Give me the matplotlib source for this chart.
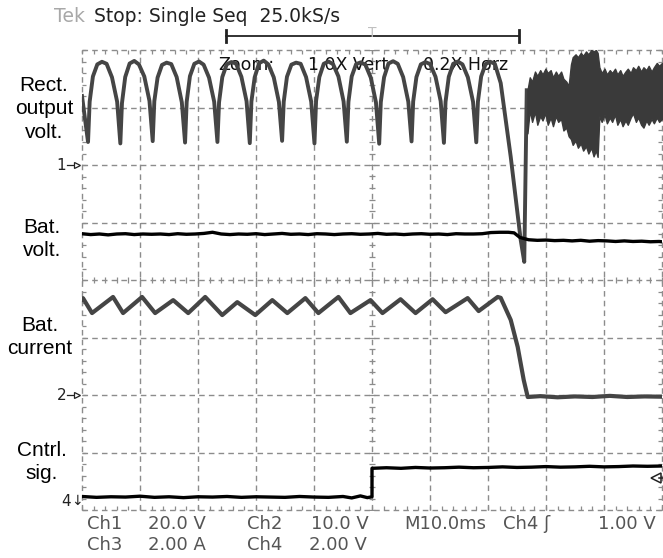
import numpy as np
from matplotlib import pyplot as plt
from matplotlib.ticker import MultipleLocator

W, H = 663, 558

# scope settings: volts (amps) per division and ground position in divisions
ms_per_div = 10.0
ch1_scale, ch1_pos = 20.0, 6.0
ch2_scale, ch2_pos = 10.0, 3.6
ch3_scale, ch3_pos = 2.0, 2.0
ch4_scale, ch4_pos = 2.0, 0.0
trig_level = 1.0

# Ch1: rectifier output voltage [V], time in ms
ch1_t = [0.00,
         1.04, 1.32, 1.88, 2.64, 3.44, 4.24, 5.17, 6.06,
         6.61, 6.89, 7.45, 8.21, 9.01, 9.81, 10.74, 11.63,
         12.19, 12.47, 13.03, 13.79, 14.59, 15.39, 16.32, 17.21,
         17.77, 18.05, 18.61, 19.37, 20.17, 20.97, 21.90, 22.79,
         23.35, 23.63, 24.19, 24.95, 25.75, 26.55, 27.48, 28.37,
         28.93, 29.21, 29.77, 30.53, 31.33, 32.13, 33.06, 33.95,
         34.50, 34.78, 35.34, 36.10, 36.90, 37.70, 38.63, 39.52,
         40.08, 40.36, 40.92, 41.68, 42.48, 43.28, 44.21, 45.10,
         45.66, 45.94, 46.50, 47.26, 48.06, 48.86, 49.79, 50.68,
         51.24, 51.52, 52.08, 52.84, 53.64, 54.44, 55.37, 56.26,
         56.82, 57.10, 57.66, 58.42, 59.22, 60.02, 60.95, 61.84,
         62.40, 62.68, 63.24, 64.00, 64.80, 65.60, 66.53, 67.42,
         67.98, 68.26, 68.82, 69.58, 70.38, 71.18,
         72.19, 73.92, 75.64, 76.25, 76.68]
ch1_v = [24.0,
         8.0, 22.0, 30.8, 35.0, 35.9, 35.2, 30.5, 22.0,
         7.5, 21.5, 30.6, 35.3, 36.2, 35.0, 30.8, 22.3,
         8.3, 22.2, 30.4, 34.8, 35.6, 35.1, 30.6, 21.8,
         7.8, 22.0, 30.9, 35.2, 36.0, 34.9, 30.4, 22.0,
         8.0, 21.8, 30.6, 35.0, 35.8, 35.3, 30.7, 22.2,
         7.6, 22.1, 30.5, 35.4, 36.3, 35.0, 30.5, 21.9,
         8.4, 22.0, 30.7, 34.9, 35.6, 35.2, 30.6, 22.0,
         7.5, 22.3, 30.6, 35.2, 36.0, 35.1, 30.8, 22.1,
         8.1, 22.0, 30.8, 35.1, 35.7, 34.9, 30.4, 21.8,
         7.4, 21.9, 30.5, 35.3, 36.1, 35.2, 30.6, 22.0,
         8.2, 22.1, 30.6, 35.0, 35.8, 35.1, 30.7, 22.2,
         7.7, 22.0, 30.7, 35.2, 36.0, 35.0, 30.5, 22.0,
         7.9, 22.0, 30.8, 35.1, 35.9, 35.2,
         28.5, 2.8, -26.1, -33.7, 26.0]

# Ch1 after the collapse: envelope of the noisy band [V]
band_t = [76.8, 77.2, 77.6, 78.1, 78.5, 79.0, 79.4, 79.9, 80.3, 80.8, 81.2, 81.7,
          82.1, 82.6, 83.0, 83.5, 83.9,
          84.3, 84.6, 85.1, 85.5, 86.0, 86.4, 86.9, 87.3, 87.8, 88.2, 88.6, 88.9,
          89.2, 89.6, 90.1, 90.5, 91.0, 91.4, 91.9, 92.3, 92.8, 93.2, 93.7, 94.1,
          94.6, 95.0, 95.5, 95.9, 96.4, 96.8, 97.3, 97.7, 98.2, 98.6, 99.1, 99.5,
          100.0]
band_hi = [26, 30.5, 29, 32.5, 31, 33, 31.5, 33.5, 32, 33, 30.5, 32.5,
           31, 32.5, 30, 29, 27.5,
           35, 37.5, 38.5, 37.5, 39, 38, 39.5, 38.5, 40, 39.5, 40, 39,
           34, 32, 33.5, 31.5, 33, 32, 33.5, 31.5, 33, 31, 32.5, 33.5,
           32, 34, 33, 34.5, 32.5, 34, 33, 34.5, 32.5, 34, 35.5, 34.5,
           35.5]
band_lo = [11, 19, 15, 18.5, 14, 17, 15.5, 18, 14, 16.5, 13.5, 17,
           15, 16, 12, 13, 10,
           9, 7, 8.5, 6, 7.5, 5, 6.5, 4, 6, 3, 5, 2.8,
           17, 15, 17.5, 14.5, 16.5, 15, 17.5, 14, 16, 13.5, 15.5, 14,
           16.5, 18, 15, 16.5, 14, 13, 15.5, 14, 16, 14.5, 16.5, 15,
           16]

# Ch2: battery voltage [V]
ch2_t = [0, 1.5, 3, 4.5, 6, 7.5, 9, 10.5, 12, 13.5,
         15, 16.5, 18, 19.5, 21, 22.5, 24, 25.5, 27, 28.5,
         30, 31.5, 33, 34.5, 36, 37.5, 39, 40.5, 42, 43.5,
         45, 46.5, 48, 49.5, 51, 52.5, 54, 55.5, 57, 58.5,
         60, 61.5, 63, 64.5, 66, 67.5, 69, 70.5, 72, 73.5,
         74.5, 75.5,
         77, 78.5, 80, 81.5, 83, 84.5, 86, 87.5, 89, 90.5, 92, 93.5, 95, 96.5, 98, 99.5,
         100]
ch2_v = [12.05, 11.9, 12.0, 11.85, 12.0, 12.05, 11.9, 12.0, 11.95, 12.0,
         11.9, 12.05, 11.95, 12.0, 12.1, 12.3, 12.0, 11.9, 12.0, 11.95,
         12.05, 11.9, 12.0, 12.1, 11.95, 12.0, 11.9, 12.05, 12.0, 11.9,
         12.0, 12.05, 11.95, 12.0, 12.1, 11.95, 12.0, 11.9, 12.0, 12.05,
         11.95, 12.0, 11.9, 12.05, 12.0, 12.0, 12.05, 12.25, 12.3, 12.3,
         12.2, 11.4,
         11.0, 10.9, 10.95, 10.85, 10.9, 10.8, 10.9, 10.75, 10.85, 10.8, 10.7, 10.8, 10.7, 10.75, 10.65, 10.7,
         10.65]

# Ch3: battery current [A]
ch3_t = [0.0, 0.17, 1.73, 5.35, 7.08, 10.36, 12.61, 15.72, 18.31, 21.24,
         24.18, 26.77, 29.88, 32.81, 35.40, 38.51, 40.76, 44.21, 46.28, 49.74,
         51.81, 54.92, 57.51, 60.45, 62.69, 66.49, 68.39, 71.67, 72.19, 73.92,
         75.12, 76.16, 76.85, 79.0, 82.0, 85.0, 88.0, 91.0, 94.0, 97.0, 100.0]
ch3_i = [3.32, 3.37, 2.85, 3.41, 2.85, 3.41, 2.85, 3.30, 2.85, 3.41,
         2.78, 3.23, 2.78, 3.30, 2.85, 3.37, 2.85, 3.41, 2.85, 3.30,
         2.85, 3.33, 2.85, 3.33, 2.88, 3.37, 2.92, 3.41, 3.38, 2.61,
         1.67, 0.52, -0.07, -0.04, -0.08, -0.05, -0.07, -0.03, -0.07, -0.05, -0.06]

# Ch4: control signal [V]
ch4_t = [0, 2.5, 5, 7.5, 10, 12.5, 15, 17.5, 20, 22.5,
         25, 27.5, 30, 32.5, 35, 37.5, 40, 42.5, 45, 46.5,
         48, 49.2, 50.0, 50.0,
         52.5, 55, 57.5, 60, 62.5, 65, 67.5, 70, 72.5, 75,
         77.5, 80, 82.5, 85, 87.5, 90, 92.5, 95, 97.5, 100]
ch4_v = [0.47, 0.44, 0.46, 0.45, 0.48, 0.44, 0.46, 0.43, 0.46, 0.45,
         0.47, 0.44, 0.46, 0.45, 0.44, 0.47, 0.45, 0.44, 0.47, 0.42,
         0.49, 0.43, 0.46, 1.45,
         1.47, 1.45, 1.48, 1.46, 1.47, 1.49, 1.47, 1.48, 1.50, 1.48,
         1.49, 1.51, 1.49, 1.50, 1.52, 1.50, 1.51, 1.53, 1.52, 1.53]

label_font = 'Liberation Sans'
scope_font = 'DejaVu Sans'
grid_color = '#8c8c8c'
trace_grey = '#454545'


def to_div(values, scale, pos):
    return pos + np.asarray(values, dtype=float) / scale


def fx(px):
    return px / W


def fy(py):
    return 1 - py / H


fig = plt.figure(figsize=(W / 100, H / 100), dpi=100)
fig.patch.set_facecolor('white')
ax = fig.add_axes([fx(82), fy(510), 580 / W, 460 / H])
ax.set_xlim(0, 10 * ms_per_div)
ax.set_ylim(0, 8)
for s in ax.spines.values():
    s.set_visible(False)

# graticule
for i in range(11):
    ax.axvline(i * ms_per_div, color=grid_color, lw=1.0, ls=(0, (4, 3)),
               clip_on=False, zorder=1)
for j in range(9):
    ax.axhline(j, color=grid_color, lw=1.0, ls=(0, (4, 3)),
               clip_on=False, zorder=1)
ax.xaxis.set_major_locator(MultipleLocator(ms_per_div))
ax.xaxis.set_minor_locator(MultipleLocator(ms_per_div / 5))
ax.yaxis.set_major_locator(MultipleLocator(1))
ax.yaxis.set_minor_locator(MultipleLocator(0.2))
ax.tick_params(which='both', direction='in', top=True, right=True,
               length=3, width=0.9, color=grid_color,
               labelbottom=False, labelleft=False)
cx = np.arange(0, 10 * ms_per_div + 0.01, ms_per_div / 5)
cy = np.arange(0, 8.01, 0.2)
ax.plot(cx, np.full(len(cx), 4.0), ls='none', marker='|', ms=5, mew=0.9,
        color=grid_color, zorder=1)
ax.plot(np.full(len(cy), 5 * ms_per_div), cy, ls='none', marker='_', ms=5,
        mew=0.9, color=grid_color, zorder=1)

# zoom info under the traces
zoom_kw = dict(transform=fig.transFigure, fontsize=12.5, family=scope_font,
               color='#111111', va='center', zorder=2)
ax.text(fx(218), fy(65), 'Zoom:', **zoom_kw)
ax.text(fx(308), fy(65), '1.0X Vert', **zoom_kw)
ax.text(fx(423), fy(65), '0.2X Horz', **zoom_kw)

# traces
ax.plot(ch1_t, to_div(ch1_v, ch1_scale, ch1_pos), color=trace_grey, lw=2.8,
        solid_joinstyle='round', zorder=3)
ax.fill_between(band_t, to_div(band_lo, ch1_scale, ch1_pos),
                to_div(band_hi, ch1_scale, ch1_pos), color='#3a3a3a',
                lw=1.0, edgecolor='#3a3a3a', zorder=3)
ax.plot(ch3_t, to_div(ch3_i, ch3_scale, ch3_pos), color=trace_grey, lw=3.0,
        solid_joinstyle='round', zorder=3)
ax.plot(ch2_t, to_div(ch2_v, ch2_scale, ch2_pos), color='black', lw=2.4,
        zorder=4)
ax.plot(ch4_t, to_div(ch4_v, ch4_scale, ch4_pos), color='black', lw=2.4,
        zorder=4)

# channel ground markers
for name, pos in [('1', ch1_pos), ('2', ch3_pos)]:
    ax.text(-2.7, pos, name, fontsize=11, family=scope_font, ha='right',
            va='center', color='#222222', clip_on=False)
    ax.plot([-2.6, -1.2], [pos, pos], color='#222222', lw=0.9, clip_on=False)
    ax.plot([-0.9], [pos], marker='>', ms=5, mfc='white', mec='#222222',
            mew=0.9, clip_on=False)
ax.text(-1.9, ch4_pos + 0.15, '4', fontsize=11, family=scope_font,
        ha='right', va='center', color='#222222', clip_on=False)
ax.text(-1.9, ch4_pos + 0.15, '\u2193', fontsize=10, family=scope_font,
        ha='left', va='center', color='#222222', clip_on=False)

# trigger level marker
trig_y = to_div([trig_level], ch4_scale, ch4_pos)[0]
ax.plot([98.9], [trig_y + 0.05], marker='<', ms=7, mfc='white', mec='#222222',
        mew=1.1, clip_on=False, zorder=5)
ax.plot([99.5, 100.3], [trig_y + 0.05, trig_y + 0.05], color='#222222', lw=1.1,
        clip_on=False, zorder=5)

# header
fig.text(fx(54), fy(17), 'Tek', fontsize=13.5, family=scope_font,
         color='#a8a8a8', va='center')
fig.text(fx(94), fy(17), 'Stop: Single Seq  25.0kS/s', fontsize=13.5,
         family=scope_font, color='#222222', va='center')
ax.plot([fx(226), fx(519)], [fy(36), fy(36)], transform=fig.transFigure,
        color='#222222', lw=1.3, clip_on=False)
for bx in (226, 519):
    ax.plot([fx(bx), fx(bx)], [fy(30), fy(42)], transform=fig.transFigure,
            color='#222222', lw=2.0, clip_on=False)
fig.text(fx(372), fy(33), 'T', fontsize=10, family=scope_font,
         color='#c0c0c0', ha='center', va='center')

# channel labels
label_kw = dict(fontsize=15, family=label_font, ha='center', va='center',
                multialignment='center', linespacing=1.3, color='black')
fig.text(fx(44), fy(109), 'Rect.\noutput\nvolt.', **label_kw)
fig.text(fx(42), fy(239), 'Bat.\nvolt.', **label_kw)
fig.text(fx(40), fy(337), 'Bat.\ncurrent', **label_kw)
fig.text(fx(42), fy(462), 'Cntrl.\nsig.', **label_kw)

# readout
ro_kw = dict(fontsize=13, family=scope_font, color='#555555', va='center')
fig.text(fx(87), fy(524), 'Ch1', **ro_kw)
fig.text(fx(148), fy(524), '20.0 V', **ro_kw)
fig.text(fx(247), fy(524), 'Ch2', **ro_kw)
fig.text(fx(311), fy(524), '10.0 V', **ro_kw)
fig.text(fx(404), fy(524), 'M10.0ms', **ro_kw)
fig.text(fx(503), fy(524), 'Ch4 \u0283', **ro_kw)
fig.text(fx(598), fy(524), '1.00 V', **ro_kw)
fig.text(fx(87), fy(545), 'Ch3', **ro_kw)
fig.text(fx(148), fy(545), '2.00 A', **ro_kw)
fig.text(fx(247), fy(545), 'Ch4', **ro_kw)
fig.text(fx(309), fy(545), '2.00 V', **ro_kw)

fig.savefig('out.png', dpi=100, facecolor='white')
